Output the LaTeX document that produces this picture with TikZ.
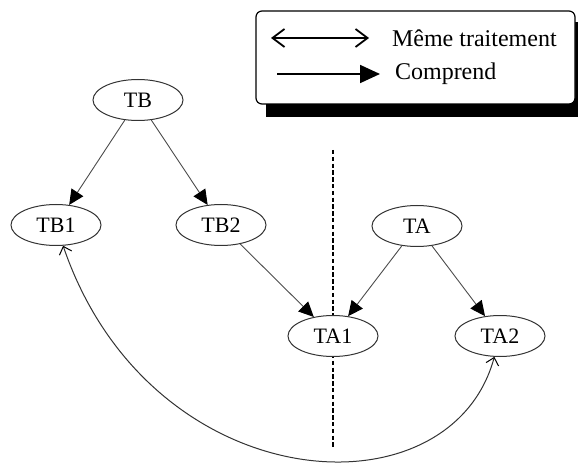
\documentclass[tikz,border=0pt]{standalone}
\usepackage{fontspec}
\setmainfont{Liberation Serif}
\usetikzlibrary{arrows.meta,shapes.geometric}

\begin{document}
\begin{tikzpicture}[x=0.5pt,y=-0.5pt,
    treat/.style={ellipse,draw=black!80,fill=white,line width=0.5pt,minimum width=45pt,minimum height=20.5pt,inner sep=0pt,font=\fontsize{11}{13}\selectfont},
    incl/.style={draw=black!70,line width=0.45pt,-{Triangle[length=7.5pt,width=7pt,color=black]}},
    same/.style={draw=black!80,line width=0.5pt,{Straight Barb[length=3.5pt,width=6.5pt,color=black]}-{Straight Barb[length=3.5pt,width=6.5pt,color=black]}}]
  \useasboundingbox (0,0) rectangle (578,470);
  % legend
  \fill[black] (266,22) rectangle (590,117);
  \draw[rounded corners=3pt,fill=white,line width=0.6pt] (256,11) rectangle (575,104);
  \node[anchor=west,font=\fontsize{12}{14}\selectfont] (lsame) at (385,38) {Même traitement};
  \node[anchor=west,font=\fontsize{12}{14}\selectfont] (lincl) at (388,74) {Comprend};
  \coordinate (s1) at (271,38);
  \coordinate (s2) at (369,38);
  \coordinate (c1) at (277,74);
  \coordinate (c2) at (380,74);
  \draw[line width=0.9pt,{Straight Barb[length=6pt,width=9pt]}-{Straight Barb[length=6pt,width=9pt]}] (s1) -- (s2);
  \draw[line width=0.9pt,-{Triangle[length=10pt,width=9pt]}] (c1) -- (c2);
  % separation
  \coordinate (top) at (333,150);
  \coordinate (bot) at (333,447);
  \draw[line width=1.1pt,dash pattern=on 2.2pt off 1.2pt] (top) -- (bot);
  % nodes
  \node[treat] (tb) at (138,100) {TB};
  \node[treat] (tb1) at (56,225) {TB1};
  \node[treat] (tb2) at (221,225) {TB2};
  \node[treat] (ta) at (417,226) {TA};
  \node[treat] (ta1) at (333,336) {TA1};
  \node[treat] (ta2) at (500,336) {TA2};
  % arrows
  \draw[incl] (tb) -- (tb1);
  \draw[incl] (tb) -- (tb2);
  \draw[incl] (tb2) -- (ta1);
  \draw[incl] (ta) -- (ta1);
  \draw[incl] (ta) -- (ta2);
  \draw[same] (tb1) .. controls (150,500) and (450,520) .. (ta2);
\end{tikzpicture}
\end{document}
